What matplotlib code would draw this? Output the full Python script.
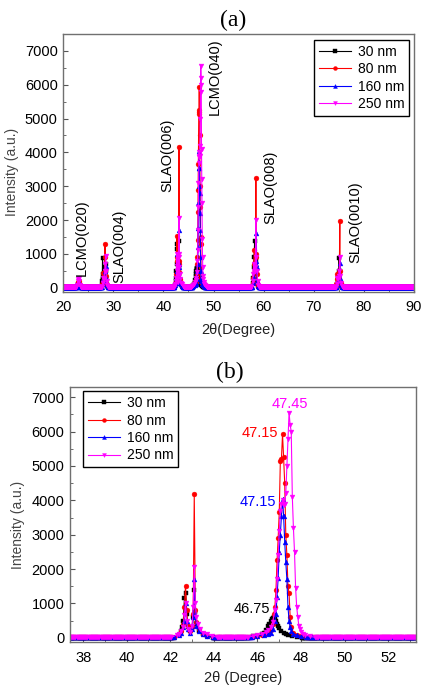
import numpy as np
import matplotlib
matplotlib.use('Agg')
import matplotlib.pyplot as plt
from matplotlib.ticker import MultipleLocator

plt.rcParams['font.family'] = ['Liberation Sans', 'DejaVu Sans']

# scan range / step of the XRD measurement
scan_start, scan_stop, scan_step = 20.0, 90.0, 0.05

labels = ['30 nm', '80 nm', '160 nm', '250 nm']
colors = ['black', 'red', 'blue', 'magenta']
markers = ['s', 'o', '^', 'v']
baseline = [5, 10, 15, 10]

# (2theta, intensity) points
peaks_30 = [
    (22.90, 40), (23.00, 100), (23.10, 110), (23.20, 50),
    (27.75, 80), (27.80, 200), (27.85, 890), (27.90, 400), (27.95, 250), (28.00, 300),
    (28.10, 200), (28.20, 250), (28.30, 500), (28.40, 600), (28.45, 700), (28.50, 480),
    (28.55, 300), (28.60, 200), (28.70, 80),
    (42.40, 80), (42.50, 200), (42.55, 300), (42.60, 500), (42.65, 1150), (42.70, 1300),
    (42.75, 700), (42.80, 300), (42.90, 200), (43.00, 300), (43.05, 600), (43.10, 1390),
    (43.15, 750), (43.20, 400), (43.30, 200), (43.50, 100), (43.70, 50),
    (45.80, 40), (46.00, 60), (46.20, 100), (46.30, 150), (46.40, 220), (46.50, 330),
    (46.55, 400), (46.60, 480), (46.65, 540), (46.70, 570), (46.75, 590), (46.80, 560),
    (46.85, 480), (46.90, 400), (46.95, 330), (47.00, 270), (47.10, 200), (47.20, 150),
    (47.30, 110), (47.40, 80), (47.60, 50), (47.80, 30),
    (57.80, 150), (57.90, 300), (58.00, 600), (58.10, 900), (58.20, 1380), (58.30, 700),
    (58.40, 500), (58.45, 800), (58.55, 400), (58.70, 150), (58.80, 60),
    (74.70, 100), (74.80, 200), (74.90, 300), (75.00, 500), (75.05, 870), (75.15, 500),
    (75.30, 200), (75.40, 80),
]
peaks_80 = [
    (22.90, 60), (23.00, 180), (23.10, 200), (23.20, 80),
    (27.80, 100), (27.90, 200), (28.00, 430), (28.10, 300), (28.20, 350), (28.30, 900),
    (28.35, 1290), (28.40, 500), (28.50, 350), (28.60, 150), (28.70, 60),
    (42.40, 100), (42.50, 200), (42.60, 400), (42.65, 900), (42.70, 1520), (42.75, 800),
    (42.80, 350), (42.90, 200), (43.00, 300), (43.05, 700), (43.10, 4170), (43.15, 800),
    (43.20, 450), (43.30, 250), (43.50, 120), (43.70, 60),
    (46.00, 60), (46.20, 90), (46.40, 130), (46.50, 170), (46.60, 220), (46.70, 400),
    (46.75, 700), (46.80, 900), (46.85, 1400), (46.90, 2250), (46.95, 2900), (47.00, 3650),
    (47.05, 5150), (47.10, 5200), (47.15, 5920), (47.20, 5250), (47.25, 4500), (47.30, 3000),
    (47.35, 2400), (47.40, 1500), (47.45, 1300), (47.50, 600), (47.55, 300), (47.65, 150),
    (47.80, 80), (48.00, 40),
    (57.80, 150), (57.90, 300), (58.00, 700), (58.15, 1100), (58.30, 600), (58.40, 900),
    (58.45, 3250), (58.50, 1000), (58.60, 400), (58.75, 150), (58.85, 60),
    (74.50, 100), (74.60, 250), (74.70, 400), (74.80, 350), (74.90, 300), (75.00, 300),
    (75.10, 450), (75.20, 1960), (75.25, 500), (75.40, 150), (75.50, 60),
]
peaks_160 = [
    (22.90, 60), (23.00, 150), (23.10, 160), (23.20, 70),
    (27.90, 100), (28.00, 250), (28.10, 200), (28.30, 500), (28.45, 650), (28.55, 300),
    (28.70, 80),
    (42.40, 80), (42.50, 150), (42.60, 300), (42.65, 500), (42.70, 1000), (42.75, 480),
    (42.80, 250), (42.90, 150), (43.00, 250), (43.05, 600), (43.10, 1710), (43.15, 700),
    (43.20, 350), (43.30, 200), (43.50, 100), (43.70, 50),
    (46.00, 50), (46.30, 80), (46.50, 110), (46.60, 150), (46.70, 250), (46.80, 500),
    (46.85, 700), (46.90, 1200), (46.95, 1750), (47.00, 2500), (47.05, 3000), (47.10, 3550),
    (47.15, 4050), (47.20, 3550), (47.25, 2800), (47.30, 2200), (47.35, 1700), (47.40, 900),
    (47.45, 500), (47.50, 300), (47.55, 200), (47.65, 120), (47.80, 80), (48.00, 40),
    (57.90, 150), (58.00, 300), (58.20, 500), (58.40, 700), (58.45, 800), (58.55, 1620),
    (58.60, 600), (58.75, 200), (58.85, 60),
    (74.70, 100), (74.80, 200), (75.00, 300), (75.10, 400), (75.20, 720), (75.30, 300),
    (75.45, 80),
]
peaks_250 = [
    (22.80, 80), (22.90, 200), (23.00, 270), (23.10, 280), (23.20, 200), (23.30, 70),
    (27.90, 150), (28.00, 300), (28.10, 250), (28.30, 500), (28.40, 700), (28.50, 950),
    (28.55, 500), (28.65, 200), (28.75, 80),
    (42.30, 80), (42.40, 120), (42.50, 200), (42.60, 300), (42.65, 650), (42.70, 1000),
    (42.75, 500), (42.80, 250), (42.90, 180), (43.00, 350), (43.05, 900), (43.10, 2070),
    (43.15, 1000), (43.20, 600), (43.25, 400), (43.35, 250), (43.50, 150), (43.70, 100),
    (43.90, 60),
    (45.80, 50), (46.00, 80), (46.20, 110), (46.40, 170), (46.50, 220), (46.60, 300),
    (46.70, 450), (46.80, 800), (46.85, 1100), (46.90, 1700), (46.95, 2400), (47.00, 3100),
    (47.05, 3700), (47.10, 3900), (47.15, 4000), (47.20, 3850), (47.25, 3900), (47.30, 4200),
    (47.35, 5000), (47.40, 5800), (47.45, 6550), (47.50, 6200), (47.55, 6000), (47.60, 4100),
    (47.65, 3200), (47.70, 2500), (47.75, 1450), (47.80, 900), (47.85, 600), (47.90, 350),
    (47.95, 250), (48.00, 180), (48.10, 120), (48.20, 80), (48.40, 40),
    (57.80, 200), (57.90, 400), (58.00, 700), (58.10, 500), (58.20, 600), (58.30, 500),
    (58.45, 2000), (58.55, 900), (58.65, 500), (58.80, 200), (58.90, 70),
    (74.60, 100), (74.70, 300), (74.80, 250), (74.90, 300), (75.00, 350), (75.10, 500),
    (75.20, 900), (75.30, 350), (75.45, 150), (75.55, 60),
]
all_peaks = [peaks_30, peaks_80, peaks_160, peaks_250]

# peak labels in panel (a)
a_notes = ['LCMO(020)', 'SLAO(004)', 'SLAO(006)', 'LCMO(040)', 'SLAO(008)', 'SLAO(0010)']
a_note_x = [23.7, 31.3, 40.8, 50.3, 61.4, 78.2]
a_note_y = [1470, 1230, 3910, 6250, 2965, 1930]

# peak positions in panel (b)
b_notes = ['46.75', '47.15', '47.15', '47.45']
b_note_x = [45.76, 46.11, 46.03, 47.49]
b_note_y = [837, 5960, 3948, 6813]


def build_scan(peaks, base):
    grid = np.round(np.arange(scan_start, scan_stop + 1e-6, scan_step), 2)
    px = np.array([p[0] for p in peaks])
    py = np.array([p[1] for p in peaks])
    near = np.min(np.abs(grid[:, None] - px[None, :]), axis=1) < 0.25
    x = np.concatenate([grid[~near], px])
    y = np.concatenate([np.full((~near).sum(), base), py])
    order = np.argsort(x)
    return x[order], y[order]


def style_axes(ax):
    for s in ax.spines.values():
        s.set_color('#707070')
        s.set_linewidth(1.0)
    ax.tick_params(which='both', direction='in', top=False, right=False,
                   labelsize=10.5, color='#555555')
    ax.tick_params(which='major', length=3.5, pad=4)
    ax.tick_params(which='minor', length=2)
    ax.tick_params(axis='x', pad=6)
    ax.yaxis.set_major_locator(MultipleLocator(1000))
    ax.yaxis.set_minor_locator(MultipleLocator(500))


fig = plt.figure(figsize=(4.27, 6.88), dpi=100)
ax_a = fig.add_axes([0.148, 0.576, 0.8215, 0.3745])
ax_b = fig.add_axes([0.164, 0.0664, 0.810, 0.3706])

for ax in (ax_a, ax_b):
    for peaks, base, lab, c, m in zip(all_peaks, baseline, labels, colors, markers):
        x, y = build_scan(peaks, base)
        ax.plot(x, y, color=c, lw=0.8, marker=m, markersize=3.5,
                markeredgewidth=0.3, label=lab)
    style_axes(ax)

ax_a.set_xlim(20, 90)
ax_a.set_ylim(-120, 7500)
ax_a.xaxis.set_major_locator(MultipleLocator(10))
ax_a.xaxis.set_minor_locator(MultipleLocator(5))
ax_a.legend(loc='upper right', bbox_to_anchor=(0.986, 0.977), borderaxespad=0,
            fontsize=10, fancybox=False, edgecolor='black', framealpha=1,
            handlelength=2.3, labelspacing=0.25, borderpad=0.35, handletextpad=0.5,
            markerscale=0.8)
for t, x, y in zip(a_notes, a_note_x, a_note_y):
    ax_a.text(x, y, t, rotation=90, ha='center', va='center', fontsize=10.5)

ax_b.set_xlim(37.4, 53.27)
ax_b.set_ylim(-134, 7290)
ax_b.xaxis.set_major_locator(MultipleLocator(2))
ax_b.xaxis.set_minor_locator(MultipleLocator(1))
ax_b.legend(loc='upper left', bbox_to_anchor=(0.0376, 0.985), borderaxespad=0,
            fontsize=10, fancybox=False, edgecolor='black', framealpha=1,
            handlelength=2.3, labelspacing=0.25, borderpad=0.35, handletextpad=0.5,
            markerscale=0.8)
for t, x, y, c in zip(b_notes, b_note_x, b_note_y, ['black', 'red', 'blue', 'magenta']):
    ax_b.text(x, y, t, ha='center', va='center', fontsize=10.5, color=c)

# titles and axis labels
W, H = 427, 688
fig.text(233 / W, 1 - 20 / H, '(a)', family='Liberation Serif', fontsize=17,
         ha='center', va='center')
fig.text(230 / W, 1 - 372 / H, '(b)', family='Liberation Serif', fontsize=17,
         ha='center', va='center')
fig.text(12 / W, 1 - 172 / H, 'Intensity (a.u.)', rotation=90, fontsize=10,
         color='#444444', ha='center', va='center')
fig.text(18 / W, 1 - 525 / H, 'Intensity (a.u.)', rotation=90, fontsize=10,
         color='#444444', ha='center', va='center')
fig.text(238 / W, 1 - 330 / H, '2θ(Degree)', fontsize=10.5, color='#222222',
         ha='center', va='center')
fig.text(243 / W, 1 - 678 / H, '2θ (Degree)', fontsize=10.5, color='#222222',
         ha='center', va='center')

fig.savefig('out.png', dpi=100)
